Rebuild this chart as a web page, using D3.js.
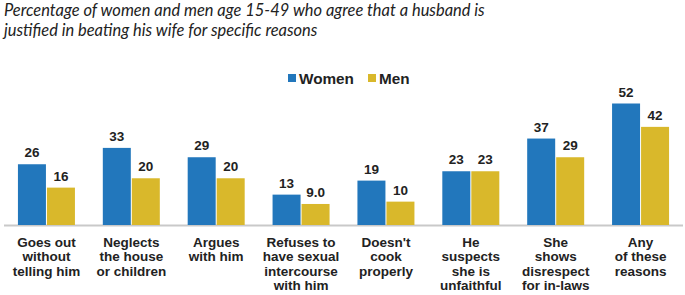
<!DOCTYPE html>
<html>
<head>
<meta charset="utf-8">
<script src="https://cdn.jsdelivr.net/npm/d3@7"></script>
<style>
  body { margin: 0; background: #fff; }
  svg { display: block; }
</style>
</head>
<body>
<div id="chart"></div>
<script>
var categories = [
  ["Goes out", "without", "telling him"],
  ["Neglects", "the house", "or children"],
  ["Argues", "with him"],
  ["Refuses to", "have sexual", "intercourse", "with him"],
  ["Doesn't", "cook", "properly"],
  ["He", "suspects", "she is", "unfaithful"],
  ["She", "shows", "disrespect", "for in-laws"],
  ["Any", "of these", "reasons"]
];
var women = [26, 33, 29, 13, 19, 23, 37, 52];
var men = [16, 20, 20, 9.0, 10, 23, 29, 42];
var menLabels = ["16", "20", "20", "9.0", "10", "23", "29", "42"];
var seriesNames = ["Women", "Men"];
var colors = ["#2277bc", "#d9b82b"];

var width = 685,
    height = 295;

var svg = d3.select("#chart").append("svg")
  .attr("width", width)
  .attr("height", height);

// title, two italic lines
var title = svg.append("g")
  .attr("font-family", "Lato, 'Open Sans', sans-serif")
  .attr("font-style", "italic")
  .attr("fill", "#222");

var t1 = title.append("text")
  .attr("x", 4).attr("y", 16)
  .attr("font-size", 15)
  .text("Percentage of women and men age 15-49 who agree that a husband is");
var fs = 15 * 481 / t1.node().getComputedTextLength();
t1.attr("font-size", fs);
title.append("text")
  .attr("x", 4).attr("y", 36)
  .attr("font-size", fs)
  .text("justified in beating his wife for specific reasons");

var baseline = 225;

var x = d3.scaleBand()
  .domain(d3.range(categories.length))
  .range([4, 683]);

var x1 = d3.scaleBand()
  .domain([0, 1])
  .range([x.bandwidth() / 2 - 29, x.bandwidth() / 2 + 29]);

var y = d3.scaleLinear()
  .domain([0, 52])
  .range([baseline, 103.5]);

// axis line
svg.append("line")
  .attr("x1", 4).attr("x2", 683)
  .attr("y1", baseline + 0.5).attr("y2", baseline + 0.5)
  .attr("stroke", "#c9c9c9")
  .attr("stroke-width", 2);

var groups = svg.selectAll(".grp")
  .data(categories)
  .enter().append("g")
    .attr("class", "grp")
    .attr("transform", (d, i) => `translate(${x(i)},0)`);

[women, men].forEach(function(vals, s) {
  groups.append("rect")
    .attr("x", (d, i) => x1(s) + 0.5)
    .attr("width", x1.bandwidth() - 1)
    .attr("y", (d, i) => y(vals[i]))
    .attr("height", (d, i) => baseline - y(vals[i]))
    .attr("fill", colors[s]);

  groups.append("text")
    .attr("x", x1(s) + x1.bandwidth() / 2)
    .attr("y", (d, i) => y(vals[i]) - 7)
    .attr("text-anchor", "middle")
    .attr("font-family", "'Liberation Sans', Arial, sans-serif")
    .attr("font-weight", "bold")
    .attr("font-size", 13.5)
    .attr("fill", "#222")
    .text((d, i) => s === 0 ? String(vals[i]) : menLabels[i]);
});

// category labels
groups.append("text")
  .attr("text-anchor", "middle")
  .attr("font-family", "'Liberation Sans', Arial, sans-serif")
  .attr("font-weight", "bold")
  .attr("font-size", 13.5)
  .attr("fill", "#222")
  .selectAll("tspan")
  .data(d => d)
  .enter().append("tspan")
    .attr("x", x.bandwidth() / 2)
    .attr("y", (d, i) => 247 + i * 14.3)
    .text(d => d);

// legend
var legend = svg.append("g")
  .attr("font-family", "'Liberation Sans', Arial, sans-serif")
  .attr("font-weight", "bold")
  .attr("font-size", 15.3)
  .attr("fill", "#222");

var legendX = [288, 368];
seriesNames.forEach(function(name, s) {
  legend.append("rect")
    .attr("x", legendX[s]).attr("y", 74)
    .attr("width", 8).attr("height", 8)
    .attr("fill", colors[s]);
  legend.append("text")
    .attr("x", legendX[s] + 11).attr("y", 83.5)
    .text(name);
});
</script>
</body>
</html>
